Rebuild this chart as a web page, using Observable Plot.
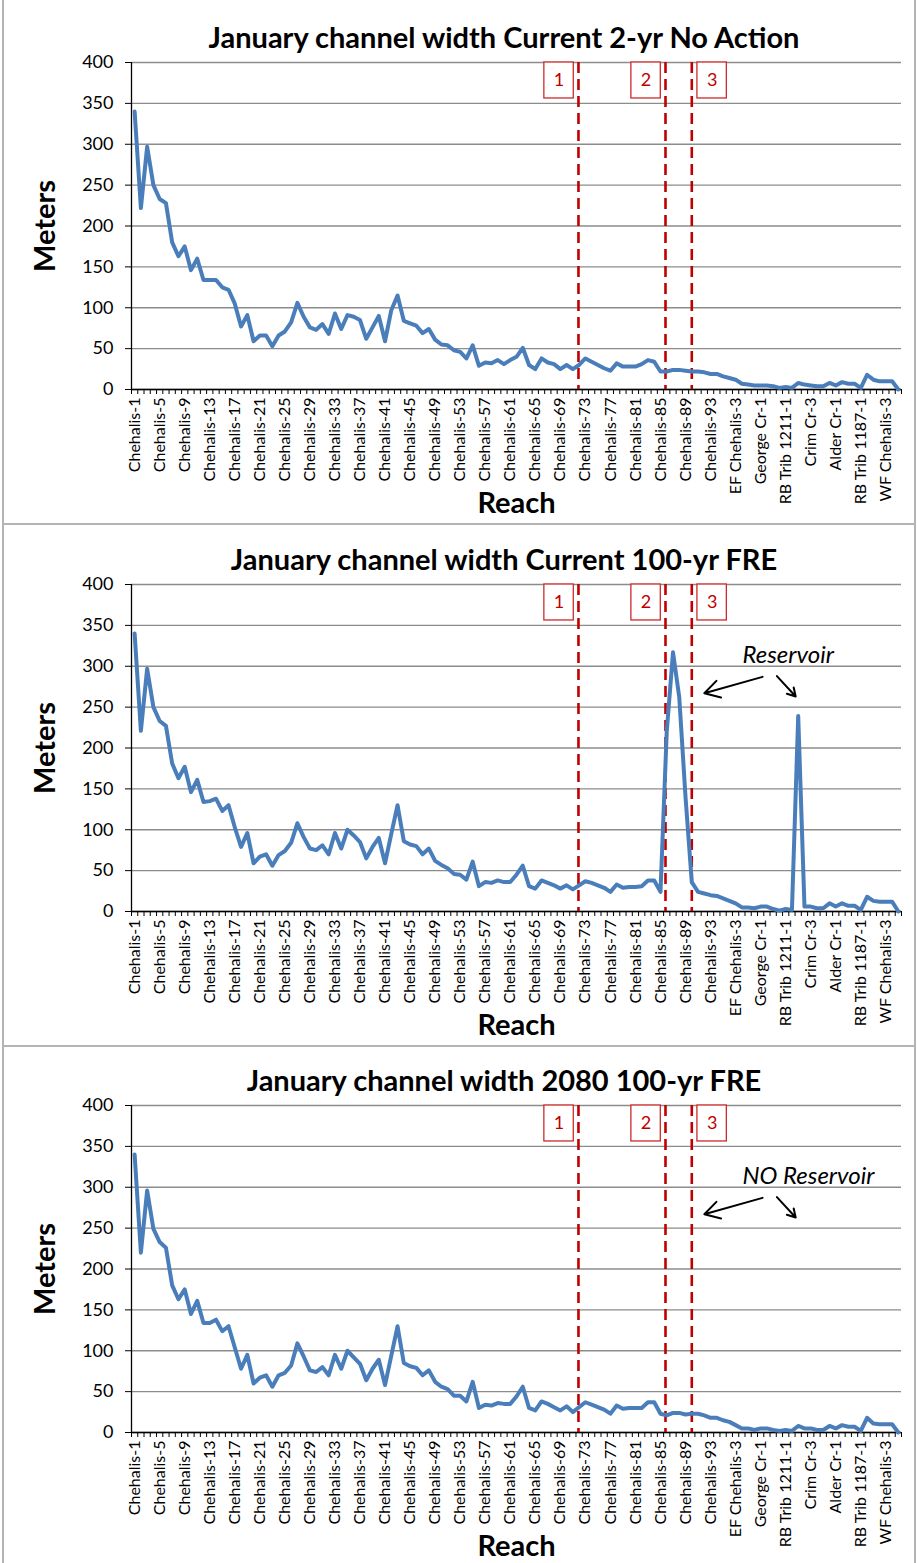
<!DOCTYPE html>
<html>
<head>
<meta charset="utf-8">
<script src="https://cdn.jsdelivr.net/npm/d3@7"></script>
<script src="https://cdn.jsdelivr.net/npm/@observablehq/plot@0.6"></script>
<style>
  body { margin: 0; background: #fff; font-family: Lato, "Open Sans", sans-serif; }
  #page { position: relative; width: 917px; height: 1563px; overflow: hidden; background: #fff; }
  .panel { position: absolute; left: 0; width: 917px; }
  .panel svg { position: absolute; left: 0; top: 50px; overflow: visible; }
  .title { position: absolute; top: 20px; left: 504px; transform: translateX(-50%);
           white-space: nowrap; font: bold 29px Lato, sans-serif; color: #000; line-height: 34px; }
  .border { position: absolute; background: #b4b4b4; }
</style>
</head>
<body>
<div id="page"></div>
<script>
// Reach groups along the river (name, number of reaches)
const reachGroups = [
  ["Chehalis", 94], ["EF Chehalis", 6], ["George Cr", 4], ["RB Trib 1211", 2],
  ["Crim Cr", 6], ["Alder Cr", 4], ["RB Trib 1187", 2], ["WF Chehalis", 5]
];
const reaches = reachGroups.flatMap(([name, n]) => d3.range(1, n + 1).map(k => `${name}-${k}`));

// January channel width (m), one value per reach
const widthNoAction2yr = [
  340, 222, 297, 250, 233, 228, 180, 163, 175, 146,
  160, 134, 134, 134, 125, 122, 105, 77, 91, 59,
  66, 66, 53, 66, 71, 82, 106, 89, 76, 73,
  80, 68, 93, 74, 91, 89, 85, 62, 76, 90,
  59, 97, 115, 84, 81, 78, 69, 74, 61, 55,
  54, 48, 46, 38, 54, 29, 33, 32, 36, 31,
  36, 40, 51, 30, 25, 38, 33, 31, 25, 30,
  25, 30, 38, 34, 30, 26, 23, 32, 28, 28,
  28, 31, 36, 34, 22, 22, 24, 24, 23, 22,
  22, 21, 19, 19, 16, 14, 12, 7, 6, 5,
  5, 5, 4, 2, 3, 2, 8, 6, 5, 4,
  4, 8, 5, 9, 7, 7, 2, 18, 12, 10,
  10, 10, 0
];
const widthFRE100yr = [
  340, 221, 297, 250, 233, 227, 181, 163, 177, 146,
  161, 134, 135, 138, 123, 130, 103, 79, 96, 59,
  67, 70, 56, 69, 74, 84, 108, 91, 77, 75,
  81, 70, 96, 77, 100, 93, 85, 65, 79, 90,
  59, 95, 130, 86, 82, 80, 70, 77, 62, 57,
  53, 46, 45, 39, 61, 31, 36, 35, 38, 36,
  36, 45, 56, 31, 28, 38, 35, 32, 28, 32,
  27, 32, 37, 35, 32, 29, 24, 33, 29, 30,
  30, 31, 38, 38, 24, 220, 317, 262, 140, 36,
  24, 22, 20, 19, 16, 13, 10, 5, 5, 4,
  6, 6, 3, 1, 3, 2, 239, 6, 6, 4,
  4, 10, 6, 10, 7, 7, 2, 18, 13, 12,
  12, 12, 0
];
const widthFRE100yr2080 = [
  340, 220, 296, 249, 233, 226, 180, 163, 175, 145,
  161, 134, 134, 138, 124, 130, 104, 78, 95, 60,
  67, 70, 56, 70, 73, 82, 109, 93, 76, 74,
  80, 70, 95, 78, 100, 92, 84, 64, 78, 89,
  58, 94, 130, 85, 81, 79, 70, 76, 62, 56,
  53, 45, 45, 38, 62, 30, 34, 33, 36, 35,
  35, 44, 56, 30, 27, 38, 35, 31, 27, 32,
  25, 31, 37, 34, 31, 28, 23, 33, 29, 30,
  30, 30, 37, 37, 23, 21, 24, 24, 22, 23,
  23, 21, 18, 18, 15, 13, 9, 5, 5, 3,
  5, 5, 3, 2, 3, 2, 8, 5, 5, 3,
  3, 8, 5, 9, 7, 7, 2, 18, 11, 10,
  10, 10, 0
];

// Section break markers along the reach axis (reach index) and their numbered boxes
const markerPos = [70.9, 84.8, 89.0];
const markerLabels = ["1", "2", "3"];
const markerSide = ["left", "left", "right"];

const yTicks = [0, 50, 100, 150, 200, 250, 300, 350, 400];
const labelEvery = 4;

// Reservoir annotation (reach index, meters)
const noteX = 97.1, noteY = 313;
const noteArrows = [
  {x1: 100.3, y1: 287, x2: 91.0, y2: 267},
  {x1: 102.6, y1: 288, x2: 105.6, y2: 263}
];

const panels = [
  {title: "January channel width Current 2-yr No Action", values: widthNoAction2yr, note: null},
  {title: "January channel width Current 100-yr FRE", values: widthFRE100yr, note: "Reservoir"},
  {title: "January channel width 2080 100-yr FRE", values: widthFRE100yr2080, note: "NO Reservoir"}
];
const panelTops = [0, 522, 1043];

const red = "#c00000";
const markers = markerPos.map((pos, k) => ({
  pos, label: markerLabels[k],
  x1: markerSide[k] === "left" ? pos - 5.45 : pos + 0.9,
  x2: markerSide[k] === "left" ? pos - 0.75 : pos + 5.6
}));

function chart(p) {
  const data = reaches.map((name, i) => ({i, name, value: p.values[i]}));
  const n = reaches.length;
  const marks = [
    Plot.gridY(yTicks, {stroke: "#8c8c8c", strokeOpacity: 1, strokeWidth: 1.3}),
    Plot.axisY(yTicks, {tickSize: 6, tickPadding: 12, fontSize: 18, label: null, tickFormat: d => d}),
    Plot.axisX(d3.range(-0.5, n), {tickSize: 5, tickFormat: () => "", label: null}),
    Plot.axisX(d3.range(0, n, labelEvery), {tickSize: 0, tickPadding: 8, tickRotate: -90, fontSize: 16,
      tickFormat: i => reaches[i], label: null}),
    Plot.ruleX([-0.5], {stroke: "#000", strokeWidth: 1.3}),
    Plot.ruleY([0], {stroke: "#000", strokeWidth: 1.3}),
    Plot.ruleX(markers, {x: "pos", stroke: red, strokeWidth: 2.6, strokeDasharray: "11,6"}),
    Plot.rect(markers, {x1: "x1", x2: "x2", y1: 356, y2: 400, fill: "white", stroke: "#cc2a2a", strokeWidth: 1.3}),
    Plot.text(markers, {x: d => (d.x1 + d.x2) / 2, y: 378, text: "label", fill: red, fontSize: 18}),
    Plot.lineY(data, {x: "i", y: "value", stroke: "#4a7ebb", strokeWidth: 4, strokeLinejoin: "round"}),
    Plot.text(["Meters"], {text: d => d, frameAnchor: "left", dx: -86, rotate: -90, textAnchor: "middle",
      lineAnchor: "middle", fontSize: 29, fontWeight: "bold"}),
    Plot.text(["Reach"], {text: d => d, frameAnchor: "bottom", dy: 114, textAnchor: "middle",
      lineAnchor: "middle", fontSize: 29, fontWeight: "bold"})
  ];
  if (p.note) {
    marks.push(
      Plot.text([p.note], {text: d => d, x: noteX, y: noteY, textAnchor: "start", fontSize: 24, fontStyle: "italic"}),
      Plot.arrow(noteArrows, {x1: "x1", y1: "y1", x2: "x2", y2: "y2", stroke: "#000", strokeWidth: 2, headLength: 13})
    );
  }
  return Plot.plot({
    width: 917, height: 471,
    marginLeft: 131, marginRight: 16, marginTop: 12, marginBottom: 132,
    style: {fontFamily: "Lato, sans-serif", background: "transparent", color: "#000"},
    x: {domain: [-0.5, n - 0.5]},
    y: {domain: [0, 400]},
    marks
  });
}

const page = document.getElementById("page");
panels.forEach((p, k) => {
  const div = document.createElement("div");
  div.className = "panel";
  div.style.top = panelTops[k] + "px";
  div.style.height = (k < 2 ? panelTops[k + 1] - panelTops[k] : 1563 - panelTops[k]) + "px";
  const t = document.createElement("div");
  t.className = "title";
  t.textContent = p.title;
  div.appendChild(t);
  div.appendChild(chart(p));
  page.appendChild(div);
});

// Frame lines around and between the three charts
[[2, 0, 2, 1563], [914, 0, 2, 1563], [2, 523, 914, 2], [2, 1045, 914, 2]].forEach(([l, t, w, h]) => {
  const b = document.createElement("div");
  b.className = "border";
  Object.assign(b.style, {left: l + "px", top: t + "px", width: w + "px", height: h + "px"});
  page.appendChild(b);
});
</script>
</body>
</html>
